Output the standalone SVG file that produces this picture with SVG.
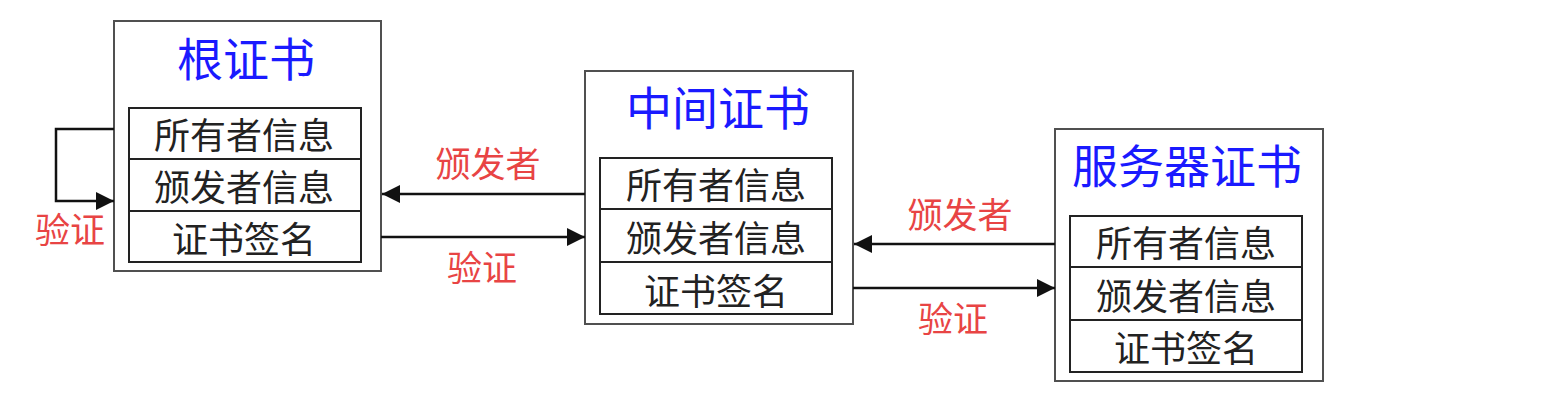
<svg xmlns="http://www.w3.org/2000/svg" width="1554" height="420" viewBox="0 0 1554 420">
<style>
.outer{fill:#fff;stroke:#505050;stroke-width:2}
.inner{fill:#fff;stroke:#222;stroke-width:2}
.div{stroke:#222;stroke-width:2}
.title{font-family:"Noto Sans CJK SC","Microsoft YaHei",sans-serif;font-size:46px;fill:#1a1aff;text-anchor:middle;dominant-baseline:central}
.row{font-family:"Noto Sans CJK SC","Microsoft YaHei",sans-serif;font-size:36px;fill:#222;text-anchor:middle;dominant-baseline:central}
.lbl{font-family:"Noto Sans CJK SC","Microsoft YaHei",sans-serif;font-size:35px;fill:#e84444;text-anchor:middle;dominant-baseline:central}
.edge{fill:none;stroke:#111;stroke-width:2.5}
</style>
<defs>
<marker id="arr" viewBox="0 0 18 18" refX="18" refY="9" markerWidth="18" markerHeight="18" markerUnits="userSpaceOnUse" orient="auto">
<path d="M0,0 L18,9 L0,18 Z" fill="#111"/>
</marker>
</defs>
<rect width="1554" height="420" fill="#fff"/>
<g id="root">
<rect class="outer" x="114" y="21" width="267" height="250"/>
<text class="title" x="246" y="56">根证书</text>
<rect class="inner" x="129" y="108" width="232" height="154"/>
<line class="div" x1="129" y1="159" x2="361" y2="159"/>
<line class="div" x1="129" y1="211" x2="361" y2="211"/>
<text class="row" x="244" y="133">所有者信息</text>
<text class="row" x="244" y="185">颁发者信息</text>
<text class="row" x="244" y="237">证书签名</text>
</g>
<g id="intermediate">
<rect class="outer" x="585" y="71" width="268" height="253"/>
<text class="title" x="718" y="105">中间证书</text>
<rect class="inner" x="600" y="158" width="232" height="156"/>
<line class="div" x1="600" y1="209" x2="832" y2="209"/>
<line class="div" x1="600" y1="262" x2="832" y2="262"/>
<text class="row" x="716" y="183">所有者信息</text>
<text class="row" x="716" y="236">颁发者信息</text>
<text class="row" x="716" y="289">证书签名</text>
</g>
<g id="server">
<rect class="outer" x="1055" y="129" width="268" height="252"/>
<text class="title" x="1187" y="163">服务器证书</text>
<rect class="inner" x="1070" y="216" width="232" height="156"/>
<line class="div" x1="1070" y1="267" x2="1302" y2="267"/>
<line class="div" x1="1070" y1="320" x2="1302" y2="320"/>
<text class="row" x="1186" y="241">所有者信息</text>
<text class="row" x="1186" y="294">颁发者信息</text>
<text class="row" x="1186" y="346">证书签名</text>
</g>
<g id="connectors">
<path class="edge" d="M114,129 H56 V201 H114" marker-end="url(#arr)"/>
<text class="lbl" x="70" y="227">验证</text>
<path class="edge" d="M585,194 H382" marker-end="url(#arr)"/>
<text class="lbl" x="488" y="161">颁发者</text>
<path class="edge" d="M381,237 H585" marker-end="url(#arr)"/>
<text class="lbl" x="482" y="265">验证</text>
<path class="edge" d="M1055,244 H854" marker-end="url(#arr)"/>
<text class="lbl" x="960" y="212">颁发者</text>
<path class="edge" d="M853,288 H1055" marker-end="url(#arr)"/>
<text class="lbl" x="953" y="316">验证</text>
</g>
</svg>
